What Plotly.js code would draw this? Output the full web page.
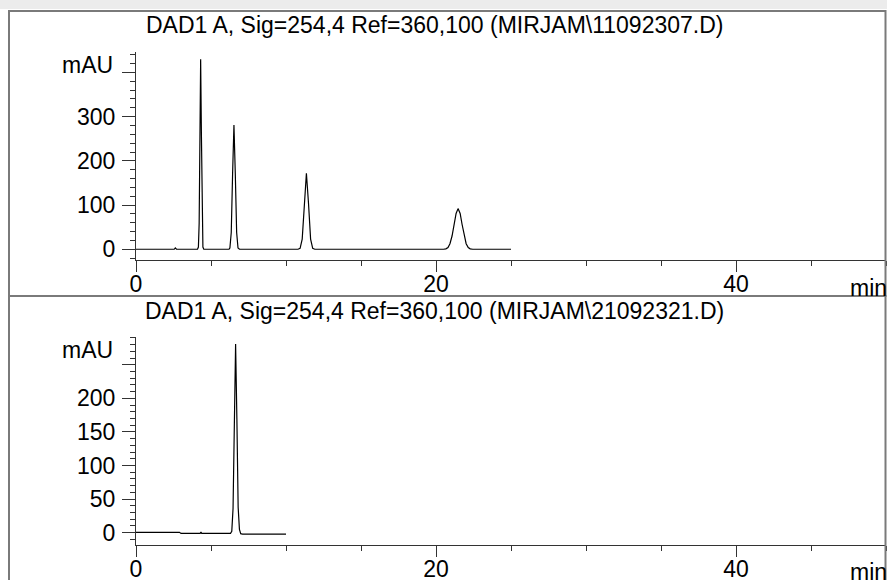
<!DOCTYPE html>
<html>
<head>
<meta charset="utf-8">
<script src="https://cdn.plot.ly/plotly-3.0.1.min.js"></script>
<style>html,body{margin:0;padding:0;background:#fff;}#chart{width:887px;height:580px;}</style>
</head>
<body>
<div id="chart"></div>
<script>
// ---- Data ----
const titleTop = "DAD1 A, Sig=254,4 Ref=360,100 (MIRJAM\\11092307.D)";
const titleBottom = "DAD1 A, Sig=254,4 Ref=360,100 (MIRJAM\\21092321.D)";

// Top chromatogram (min, mAU)
const timeTop = [0, 2.55, 2.62, 2.70,
  4.10, 4.16, 4.21, 4.26, 4.31, 4.36, 4.41, 4.46, 4.52,
  6.20, 6.26, 6.35, 6.44, 6.53, 6.62, 6.71, 6.80, 6.90,
  10.80, 10.94, 11.08, 11.22, 11.36, 11.50, 11.64, 11.78, 11.92,
  20.50, 20.66, 20.80, 20.93, 21.07, 21.20, 21.34, 21.47, 21.61, 21.74, 21.88, 22.01, 22.15, 22.28, 22.45,
  25.0];
const mauTop = [0, 0, 3, 0,
  0, 5, 58, 261, 430, 261, 58, 5, 0,
  0, 3, 38, 171, 281, 171, 38, 3, 0,
  0, 2, 23, 104, 172, 104, 23, 2, 0,
  0, 1, 4, 12.5, 30, 56, 81, 92, 81, 56, 30, 12.5, 4, 1, 0,
  0];

// Bottom chromatogram (min, mAU)
const timeBottom = [0, 2.90, 3.00, 4.28, 4.33, 4.38,
  6.30, 6.385, 6.47, 6.555, 6.64, 6.725, 6.81, 6.895, 6.98, 7.10, 10.0];
const mauBottom = [0.5, 0.5, -1, -1, 1, -1,
  -1, 2, 36, 170, 281, 170, 38, 5, -1.5, -2, -2];

// Axis ticks
const xTicks = [0, 20, 40];
const yTicksTop = [0, 100, 200, 300, 400];
const yTextTop = ["0", "100", "200", "300", ""];
const yTicksBottom = [0, 50, 100, 150, 200, 250];
const yTextBottom = ["0", "50", "100", "150", "200", ""];

// ---- Layout helpers (pixel -> paper) ----
const W = 887, H = 580;
const px = v => v / W;
const py = v => (H - v) / H;

const FONT = "Liberation Sans, Arial, sans-serif";
const FS = 23;
const AX = "#333333";

const traces = [
  {x: timeTop, y: mauTop, xaxis: "x", yaxis: "y", type: "scatter", mode: "lines",
   line: {color: "#000", width: 1.2}, hoverinfo: "skip"},
  {x: timeBottom, y: mauBottom, xaxis: "x2", yaxis: "y2", type: "scatter", mode: "lines",
   line: {color: "#000", width: 1.2}, hoverinfo: "skip"}
];

function xAxis(anchor) {
  return {
    domain: [px(136), px(886)], range: [0, 50], anchor: anchor,
    showline: true, linecolor: AX, linewidth: 1, showgrid: false, zeroline: false,
    ticks: "outside", ticklen: 11, tickwidth: 1, tickcolor: AX,
    tickmode: "array", tickvals: xTicks, ticklabelstandoff: -8,
    minor: {tick0: 0, dtick: 5, ticks: "outside", ticklen: 5, tickwidth: 1, tickcolor: AX, showgrid: false},
    tickfont: {family: FONT, size: FS, color: "#000"}, fixedrange: true
  };
}
function yAxis(anchor, dom, rng, vals, txt, minorStep) {
  return {
    domain: dom, range: rng, anchor: anchor,
    showline: true, linecolor: AX, linewidth: 1, showgrid: false, zeroline: false,
    ticks: "outside", ticklen: 13, tickwidth: 1, tickcolor: AX,
    tickmode: "array", tickvals: vals, ticktext: txt, ticklabelstandoff: 2,
    minor: {tick0: 0, dtick: minorStep, ticks: "outside", ticklen: 5, tickwidth: 1, tickcolor: AX, showgrid: false},
    tickfont: {family: FONT, size: FS, color: "#000"}, fixedrange: true
  };
}

const layout = {
  width: W, height: H,
  margin: {l: 0, r: 0, t: 0, b: 0, pad: 0},
  paper_bgcolor: "#fff", plot_bgcolor: "rgba(0,0,0,0)",
  showlegend: false,
  font: {family: FONT, size: FS, color: "#000"},
  xaxis: xAxis("y"),
  yaxis: yAxis("x", [py(260), py(51.7)], [-24.3, 447], yTicksTop, yTextTop, 20),
  xaxis2: xAxis("y2"),
  yaxis2: yAxis("x2", [py(545), py(336.7)], [-18.3, 291.7], yTicksBottom, yTextBottom, 10),
  shapes: [
    {type: "rect", xref: "paper", yref: "paper", x0: 0, x1: 1, y0: py(9), y1: 1,
     fillcolor: "#ececec", line: {width: 0}, layer: "below"},
    {type: "rect", xref: "paper", yref: "paper", x0: px(9), x1: px(885.5), y0: py(296), y1: py(11),
     fillcolor: "rgba(0,0,0,0)", line: {color: "#7a7a7a", width: 2}},
    {type: "rect", xref: "paper", yref: "paper", x0: px(9), x1: px(885.5), y0: py(600), y1: py(296),
     fillcolor: "rgba(0,0,0,0)", line: {color: "#7a7a7a", width: 2}}
  ],
  annotations: [
    {text: titleTop, xref: "paper", yref: "paper", x: px(434), y: py(25), xanchor: "center", yanchor: "middle",
     showarrow: false, font: {family: FONT, size: FS, color: "#000"}},
    {text: titleBottom, xref: "paper", yref: "paper", x: px(434), y: py(311), xanchor: "center", yanchor: "middle",
     showarrow: false, font: {family: FONT, size: FS, color: "#000"}},
    {text: "mAU", xref: "paper", yref: "paper", x: px(115), y: py(65), xanchor: "right", yanchor: "middle",
     showarrow: false, font: {family: FONT, size: FS, color: "#000"}},
    {text: "mAU", xref: "paper", yref: "paper", x: px(115), y: py(350), xanchor: "right", yanchor: "middle",
     showarrow: false, font: {family: FONT, size: FS, color: "#000"}},
    {text: "min", xref: "paper", yref: "paper", x: px(889), y: py(288), xanchor: "right", yanchor: "middle",
     showarrow: false, font: {family: FONT, size: FS, color: "#000"}},
    {text: "min", xref: "paper", yref: "paper", x: px(889), y: py(572), xanchor: "right", yanchor: "middle",
     showarrow: false, font: {family: FONT, size: FS, color: "#000"}}
  ]
};

Plotly.newPlot("chart", traces, layout, {displayModeBar: false, staticPlot: true});
</script>
</body>
</html>
